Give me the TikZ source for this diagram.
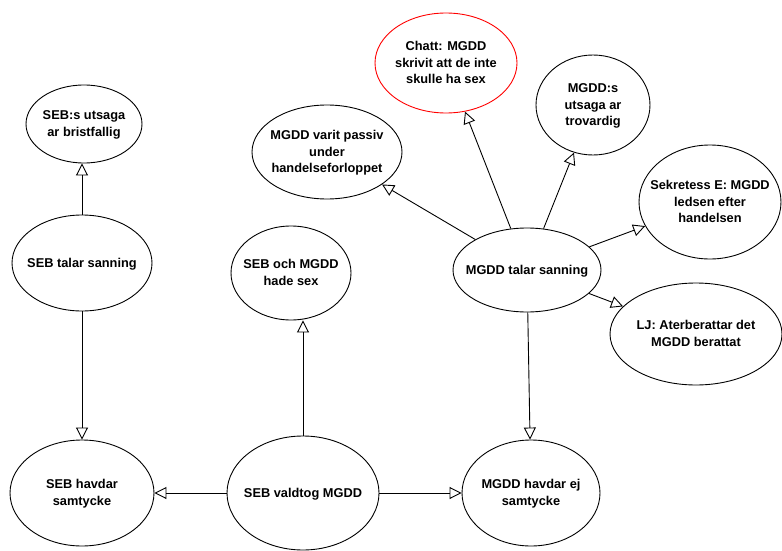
\documentclass[tikz,border=0pt]{standalone}
\usepackage{fontspec}
\setmainfont{Liberation Sans}
\usetikzlibrary{shapes.geometric,arrows.meta}
\newcommand\ztxt[1]{\makebox[0pt]{\raisebox{-0.3em}[0pt][0pt]{\begin{tabular}{@{}c@{}}#1\end{tabular}}}}
\tikzset{
  ell/.style={ellipse,draw=black,line width=0.9pt,inner sep=0pt,
    font=\fontsize{12.8}{16.5}\selectfont\bfseries},
  arr/.style={line width=0.9pt,-{Triangle[open,length=12pt,width=12pt,line width=0.9pt]}}
}
\begin{document}
\begin{tikzpicture}[x=1pt,y=-1pt]
\useasboundingbox[fill=white] (0,0) rectangle (782,551);
\node[ell,draw=red,minimum width=142,minimum height=100] (chatt) at (446,63) {\ztxt{Chatt: MGDD\\skrivit att de inte\\skulle ha sex}};
\node[ell,minimum width=114,minimum height=100] (trov) at (593,105) {\ztxt{MGDD:s\\utsaga ar\\trovardig}};
\node[ell,minimum width=142,minimum height=114] (sekr) at (710,202) {\ztxt{Sekretess E: MGDD\\ledsen efter\\handelsen}};
\node[ell,minimum width=172,minimum height=102] (lj) at (696,334) {\ztxt{LJ: Aterberattar det\\MGDD berattat}};
\node[ell,minimum width=148,minimum height=84] (mts) at (527,270) {\ztxt{MGDD talar sanning}};
\node[ell,minimum width=150,minimum height=94] (pass) at (327,152) {\ztxt{MGDD varit passiv\\under\\handelseforloppet}};
\node[ell,minimum width=116,minimum height=78] (brist) at (84,124) {\ztxt{SEB:s utsaga\\ar bristfallig}};
\node[ell,minimum width=140,minimum height=96] (sts) at (82,263) {\ztxt{SEB talar sanning}};
\node[ell,minimum width=120,minimum height=94] (sex) at (291,273) {\ztxt{SEB och MGDD\\hade sex}};
\node[ell,minimum width=144,minimum height=106] (shs) at (82,493) {\ztxt{SEB havdar\\samtycke}};
\node[ell,minimum width=152,minimum height=114] (valt) at (303,493) {\ztxt{SEB valdtog MGDD}};
\node[ell,minimum width=138,minimum height=106] (mhs) at (531,493) {\ztxt{MGDD havdar ej\\samtycke}};
% connectors
\draw[arr] (sts.north) -- (sts.north |- brist.south);
\draw[arr] (sts.south) -- (sts.south |- shs.north);
\draw[arr] (valt.west) -- (valt.west -| shs.east);
\draw[arr] (valt.east) -- (valt.east -| mhs.west);
\draw[arr] (valt.north) -- (valt.north |- sex.south);
\draw[arr] (mts) -- (mhs);
\draw[arr] (mts) -- (chatt);
\draw[arr] (mts) -- (trov);
\draw[arr] (mts) -- (pass);
\draw[arr] (mts) -- (sekr);
\draw[arr] (mts) -- (lj);
\end{tikzpicture}
\end{document}
